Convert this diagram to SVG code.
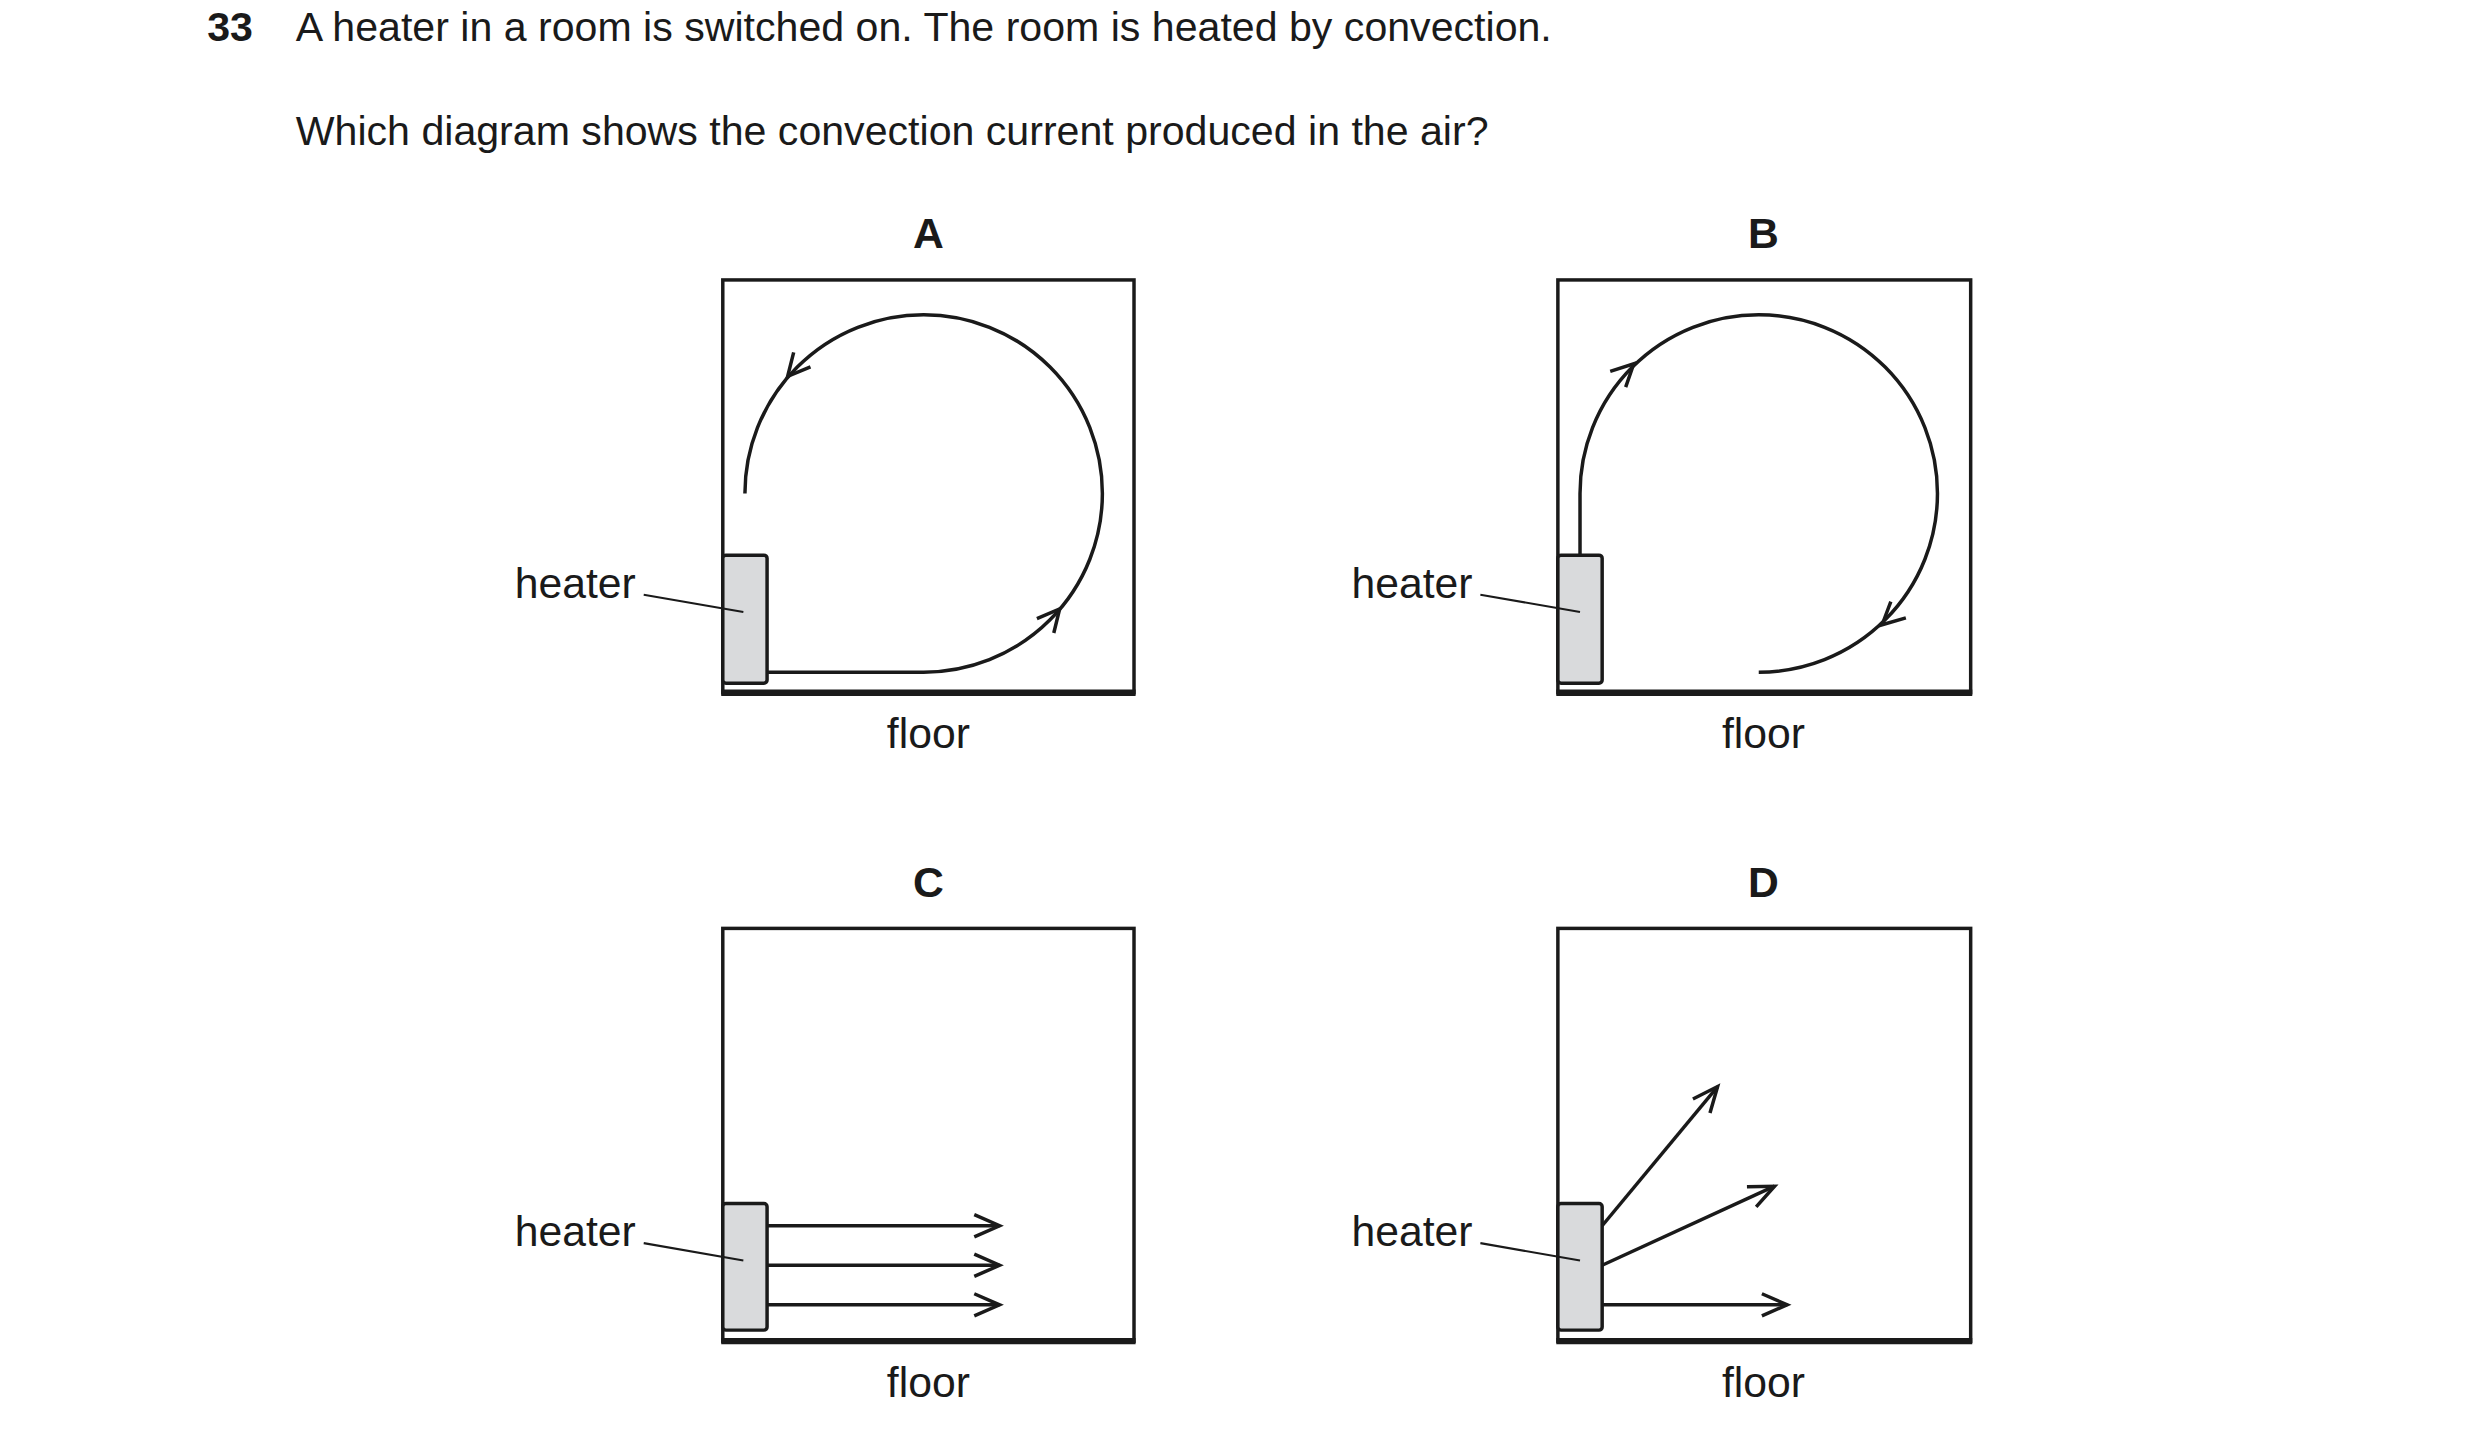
<svg xmlns="http://www.w3.org/2000/svg" width="2480" height="1438" viewBox="0 0 2480 1438">
<defs>
<style>
text{font-family:"Liberation Sans",Arial,sans-serif;fill:#1a1a1a}
.t{font-size:26px}
.lb{font-size:27px;font-weight:bold;text-anchor:middle}
.lab{font-size:27px}
.box{fill:none;stroke:#1a1a1a;stroke-width:2.2}
.floor{stroke:#1a1a1a;stroke-width:4}
.ht{fill:#d9dadc;stroke:#1a1a1a;stroke-width:2.2}
.ln{fill:none;stroke:#1a1a1a;stroke-width:2.2}
.ld{stroke:#1a1a1a;stroke-width:1.3}
</style>
<marker id="ar" markerUnits="userSpaceOnUse" markerWidth="24" markerHeight="20" refX="18" refY="9" orient="auto" viewBox="0 0 24 20"><path d="M2,2 L18,9 L2,16" fill="none" stroke="#1a1a1a" stroke-width="2.2"/></marker>
<path id="chev" d="M-14,-7 L0,0 L-14,7" fill="none" stroke="#1a1a1a" stroke-width="2.2"/>
</defs>
<rect width="2480" height="1438" fill="#fff"/>
<g transform="scale(1.5816)">
<g id="question">
<text class="t" x="131" y="26" font-weight="bold">33</text>
<text class="t" x="187" y="26">A heater in a room is switched on. The room is heated by convection.</text>
<text class="t" x="187" y="92">Which diagram shows the convection current produced in the air?</text>
</g>
<g id="diagramA">
<text class="lb" x="587" y="157">A</text>
<rect class="box" x="457" y="177" width="260" height="261"/>
<line class="floor" x1="456" y1="438" x2="718" y2="438"/>
<rect class="ht" x="457" y="351" width="28" height="81" rx="2"/>
<text class="lab" x="402" y="378" text-anchor="end">heater</text>
<line class="ld" x1="407" y1="376" x2="470" y2="387"/>
<text class="lab" x="587" y="473" text-anchor="middle">floor</text>
</g>
<g id="diagramB">
<text class="lb" x="1115" y="157">B</text>
<rect class="box" x="985" y="177" width="261" height="261"/>
<line class="floor" x1="984" y1="438" x2="1247" y2="438"/>
<rect class="ht" x="985" y="351" width="28" height="81" rx="2"/>
<text class="lab" x="931" y="378" text-anchor="end">heater</text>
<line class="ld" x1="936" y1="376" x2="999" y2="387"/>
<text class="lab" x="1115" y="473" text-anchor="middle">floor</text>
</g>
<g id="diagramC">
<text class="lb" x="587" y="567">C</text>
<rect class="box" x="457" y="587" width="260" height="261"/>
<line class="floor" x1="456" y1="848" x2="718" y2="848"/>
<rect class="ht" x="457" y="761" width="28" height="80" rx="2"/>
<text class="lab" x="402" y="788" text-anchor="end">heater</text>
<line class="ld" x1="407" y1="786" x2="470" y2="797"/>
<text class="lab" x="587" y="883" text-anchor="middle">floor</text>
</g>
<g id="diagramD">
<text class="lb" x="1115" y="567">D</text>
<rect class="box" x="985" y="587" width="261" height="261"/>
<line class="floor" x1="984" y1="848" x2="1247" y2="848"/>
<rect class="ht" x="985" y="761" width="28" height="80" rx="2"/>
<text class="lab" x="931" y="788" text-anchor="end">heater</text>
<line class="ld" x1="936" y1="786" x2="999" y2="797"/>
<text class="lab" x="1115" y="883" text-anchor="middle">floor</text>
</g>
<g id="connectors">
<path class="ln" d="M471,312 A113,113 0 0 1 584,199 A113,113 0 0 1 697,312 A113,113 0 0 1 584,425 L485,425"/>
<use href="#chev" transform="translate(498,238) rotate(130.7)"/>
<use href="#chev" transform="translate(670,385) rotate(-49.7)"/>
<path class="ln" d="M999,351 L999,312 A113,113 0 0 1 1112,199 A113,113 0 0 1 1225,312 A113,113 0 0 1 1112,425"/>
<use href="#chev" transform="translate(1033,230) rotate(-44.3)"/>
<use href="#chev" transform="translate(1190,395) rotate(137.2)"/>
<line class="ln" x1="485" y1="775" x2="632" y2="775" marker-end="url(#ar)"/>
<line class="ln" x1="485" y1="800" x2="632" y2="800" marker-end="url(#ar)"/>
<line class="ln" x1="485" y1="825" x2="632" y2="825" marker-end="url(#ar)"/>
<line class="ln" x1="1013" y1="775" x2="1086" y2="687" marker-end="url(#ar)"/>
<line class="ln" x1="1013" y1="800" x2="1122" y2="750" marker-end="url(#ar)"/>
<line class="ln" x1="1013" y1="825" x2="1130" y2="825" marker-end="url(#ar)"/>
</g>
</g>
</svg>
